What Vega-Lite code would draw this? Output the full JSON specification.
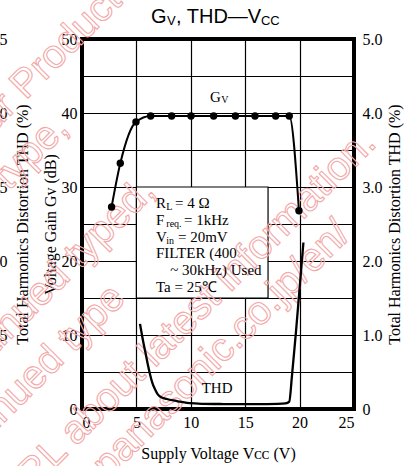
{
  "$schema": "https://vega.github.io/schema/vega-lite/v6.json",
  "autosize": {"type": "none"},
  "padding": {"left": 82, "top": 39, "right": 59, "bottom": 57},
  "width": 272,
  "height": 370,
  "background": "white",
  "datasets": {
    "gv": [
      {"v": 2.72, "db": 27.3},
      {"v": 3.52, "db": 33.2},
      {"v": 4.96, "db": 38.8},
      {"v": 6.31, "db": 39.6},
      {"v": 8.24, "db": 39.6},
      {"v": 10.02, "db": 39.6},
      {"v": 12.1, "db": 39.6},
      {"v": 14.1, "db": 39.6},
      {"v": 15.9, "db": 39.6},
      {"v": 17.8, "db": 39.6},
      {"v": 19.05, "db": 39.6},
      {"v": 19.94, "db": 26.8}
    ],
    "thd": [
      {"v": 5.33, "thd": 1.15},
      {"v": 5.6, "thd": 0.93},
      {"v": 5.85, "thd": 0.75},
      {"v": 6.05, "thd": 0.6},
      {"v": 6.25, "thd": 0.47},
      {"v": 6.45, "thd": 0.36},
      {"v": 6.7, "thd": 0.27},
      {"v": 6.95, "thd": 0.2},
      {"v": 7.2, "thd": 0.165},
      {"v": 7.8, "thd": 0.135},
      {"v": 8.4, "thd": 0.115},
      {"v": 9.0, "thd": 0.1},
      {"v": 9.9, "thd": 0.078},
      {"v": 11.0, "thd": 0.07},
      {"v": 13.0, "thd": 0.067},
      {"v": 15.0, "thd": 0.066},
      {"v": 17.0, "thd": 0.066},
      {"v": 18.0, "thd": 0.068},
      {"v": 18.7, "thd": 0.075},
      {"v": 19.05, "thd": 0.1},
      {"v": 19.3, "thd": 0.45},
      {"v": 19.7, "thd": 1.1},
      {"v": 20.35, "thd": 2.25}
    ],
    "box": [{"v": 5, "v2": 17.1, "db": 15, "db2": 30}],
    "notes": [
      {"t": "R", "v": 6.8, "db": 27.12},
      {"t": "= 4 Ω", "v": 8.55, "db": 27.12},
      {"t": "F", "v": 6.8, "db": 24.86},
      {"t": "= 1kHz", "v": 9.37, "db": 24.86},
      {"t": "V", "v": 6.8, "db": 22.61},
      {"t": "= 20mV", "v": 8.82, "db": 22.61},
      {"t": "FILTER (400", "v": 6.8, "db": 20.36},
      {"t": "~ 30kHz) Used", "v": 8.1, "db": 18.11},
      {"t": "Ta = 25℃", "v": 6.8, "db": 15.85},
      {"t": "G", "v": 11.76, "db": 41.53},
      {"t": "THD", "v": 11.0, "db": 2.2}
    ],
    "subs": [
      {"t": "L", "v": 7.75, "db": 26.85},
      {"t": "req.", "v": 7.75, "db": 24.55},
      {"t": "in", "v": 7.75, "db": 22.3},
      {"t": "V", "v": 12.8, "db": 41.3}
    ],
    "titleBig": [
      {"t": "G", "v": 6.34, "db": 52.12},
      {"t": ", THD—V", "v": 8.64, "db": 52.12}
    ],
    "titleSmall": [
      {"t": "V", "v": 7.81, "db": 51.89},
      {"t": "CC", "v": 16.45, "db": 51.89}
    ],
    "wmStart": [
      {"t": "four Product lifecycle stage.", "v": -10.37, "db": 34.05}
    ],
    "wmEnd": [
      {"t": "planed maintenance type,", "v": -1.1, "db": 37.7},
      {"t": "planed discontinued typed,", "v": 6.89, "db": 29.19},
      {"t": "discontinued type", "v": 4.14, "db": 14.73},
      {"t": "Please visit following URL about latest information.", "v": 27.2, "db": 35.68},
      {"t": "http://www.semicon.panasonic.co.jp/en/", "v": 24.82, "db": 23.38}
    ]
  },
  "encoding": {
    "x": {
      "field": "v",
      "type": "quantitative",
      "scale": {"domain": [0, 25], "nice": false, "zero": false},
      "axis": {
        "values": [0, 5, 10, 15, 20, 25],
        "grid": true,
        "labelPadding": 5,
        "title": "Supply Voltage Vᴄᴄ (V)",
        "titlePadding": 15
      }
    }
  },
  "layer": [
    {
      "data": {"name": "box"},
      "mark": {"type": "rect", "fill": "white", "stroke": "black", "strokeWidth": 1.2},
      "encoding": {
        "x2": {"field": "v2"},
        "y": {"field": "db", "type": "quantitative", "scale": {"domain": [0, 50], "nice": false}, "axis": null},
        "y2": {"field": "db2"}
      }
    },
    {
      "data": {"name": "wmStart"},
      "mark": {"type": "text", "align": "left", "baseline": "alphabetic", "angle": -45, "font": "Liberation Sans", "fontSize": 40, "fill": "transparent", "stroke": "#f3a8a8", "strokeWidth": 1.1},
      "encoding": {
        "y": {"field": "db", "type": "quantitative", "scale": {"domain": [0, 50], "nice": false}, "axis": null},
        "text": {"field": "t"}
      }
    },
    {
      "data": {"name": "wmEnd"},
      "mark": {"type": "text", "align": "right", "baseline": "alphabetic", "angle": -45, "font": "Liberation Sans", "fontSize": 40, "fill": "transparent", "stroke": "#f3a8a8", "strokeWidth": 1.1},
      "encoding": {
        "y": {
          "field": "db",
          "type": "quantitative",
          "scale": {"domain": [0, 50], "nice": false},
          "axis": {
            "orient": "left",
            "values": [10, 20, 30, 40, 50],
            "labelExpr": "format(datum.value/20, '.1f')",
            "grid": false,
            "labelAlign": "left",
            "labelPadding": 95,
            "title": "Total Harmonics Distortion THD (%)",
            "titleX": -55,
            "titleY": 185,
            "titleAngle": 270,
            "titleBaseline": "alphabetic",
            "titleAlign": "center"
          }
        },
        "text": {"field": "t"}
      }
    },
    {
      "data": {"name": "gv"},
      "mark": {"type": "line", "interpolate": "monotone", "color": "black", "strokeWidth": 2},
      "encoding": {
        "y": {
          "field": "db",
          "type": "quantitative",
          "scale": {"domain": [0, 50], "nice": false},
          "axis": {
            "orient": "left",
            "values": [0, 5, 10, 15, 20, 25, 30, 35, 40, 45, 50],
            "labelExpr": "datum.value % 10 === 0 ? datum.label : ''",
            "grid": true,
            "labelPadding": 5,
            "title": "Voltage Gain Gᴠ (dB)",
            "titlePadding": 3
          }
        }
      }
    },
    {
      "data": {"name": "gv"},
      "mark": {"type": "point", "filled": true, "color": "black", "size": 55, "opacity": 1},
      "encoding": {
        "y": {"field": "db", "type": "quantitative", "scale": {"domain": [0, 50], "nice": false}, "axis": null}
      }
    },
    {
      "data": {"name": "thd"},
      "mark": {"type": "line", "interpolate": "monotone", "color": "black", "strokeWidth": 2.3},
      "encoding": {
        "y": {
          "field": "thd",
          "type": "quantitative",
          "scale": {"domain": [0, 5], "nice": false},
          "axis": {
            "orient": "right",
            "values": [0, 1, 2, 3, 4, 5],
            "labelExpr": "datum.value == 0 ? '0' : format(datum.value, '.1f')",
            "grid": false,
            "labelPadding": 8,
            "title": "Total Harmonics Distortion THD (%)",
            "titleAngle": 270,
            "titleBaseline": "top",
            "titlePadding": 4
          }
        }
      }
    },
    {
      "data": {"name": "notes"},
      "mark": {"type": "text", "align": "left", "baseline": "alphabetic", "font": "Liberation Serif", "fontSize": 15, "color": "black"},
      "encoding": {
        "y": {"field": "db", "type": "quantitative", "scale": {"domain": [0, 50], "nice": false}, "axis": null},
        "text": {"field": "t"}
      }
    },
    {
      "data": {"name": "subs"},
      "mark": {"type": "text", "align": "left", "baseline": "alphabetic", "font": "Liberation Serif", "fontSize": 10, "color": "black"},
      "encoding": {
        "y": {"field": "db", "type": "quantitative", "scale": {"domain": [0, 50], "nice": false}, "axis": null},
        "text": {"field": "t"}
      }
    },
    {
      "data": {"name": "titleBig"},
      "mark": {"type": "text", "align": "left", "baseline": "alphabetic", "font": "Liberation Sans", "fontSize": 20, "color": "black"},
      "encoding": {
        "y": {"field": "db", "type": "quantitative", "scale": {"domain": [0, 50], "nice": false}, "axis": null},
        "text": {"field": "t"}
      }
    },
    {
      "data": {"name": "titleSmall"},
      "mark": {"type": "text", "align": "left", "baseline": "alphabetic", "font": "Liberation Sans", "fontSize": 13, "color": "black"},
      "encoding": {
        "y": {"field": "db", "type": "quantitative", "scale": {"domain": [0, 50], "nice": false}, "axis": null},
        "text": {"field": "t"}
      }
    }
  ],
  "resolve": {"scale": {"y": "independent"}, "axis": {"y": "independent"}},
  "config": {
    "view": {"stroke": "black", "strokeWidth": 4},
    "axis": {
      "labelFont": "Liberation Serif, DejaVu Serif, serif",
      "labelFontSize": 16,
      "labelColor": "black",
      "titleFont": "Liberation Serif, DejaVu Serif, serif",
      "titleFontSize": 16,
      "titleFontWeight": "normal",
      "titleColor": "black",
      "ticks": false,
      "tickSize": 0,
      "domain": false,
      "gridColor": "black",
      "gridWidth": 1.2,
      "gridOpacity": 1,
      "labelOverlap": false
    }
  }
}
